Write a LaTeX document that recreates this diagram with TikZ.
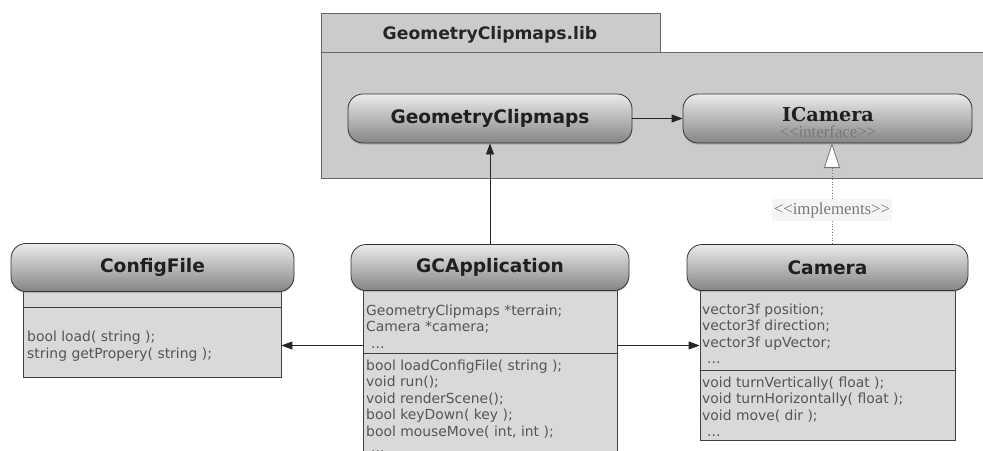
\documentclass[tikz,border=0pt]{standalone}
\usepackage{fontspec}
\setmainfont{DejaVu Sans}
\newfontfamily\hdfont{DejaVu Sans}
\newfontfamily\serfont{DejaVu Serif}
\newfontfamily\tmsfont{Liberation Serif}
\usetikzlibrary{arrows.meta,shadows}
\definecolor{pkgfill}{HTML}{CBCBCB}
\definecolor{bodyfill}{HTML}{D9D9D9}
\definecolor{txtgray}{HTML}{555555}
\definecolor{stereogray}{HTML}{787878}
\begin{document}
\begin{tikzpicture}[x=1pt,y=-1pt,
  pkgbox/.style={draw=black!60, fill=pkgfill, line width=0.7pt},
  headbox/.style={draw=black!80, rounded corners=15pt, top color=black!8, bottom color=black!48,
    line width=0.8pt, text=black!88, font=\hdfont\bfseries\fontsize{18.6}{21}\selectfont,
    drop shadow={shadow xshift=0pt, shadow yshift=-1.5pt, opacity=0.35}},
  bodybox/.style={draw=black!75, fill=bodyfill, line width=0.7pt, anchor=north},
  txt/.style={anchor=base west, inner sep=0pt, text=txtgray, font=\fontsize{13.9}{16}\selectfont},
  conn/.style={draw=black!85, line width=0.8pt, -{Triangle[length=11pt,width=8pt]}},
  impl/.style={draw=black!55, line width=0.8pt, dotted, -{Triangle[open,length=25pt,width=16pt,fill=white]}},
  stereo/.style={inner sep=0pt, text=stereogray, font=\tmsfont\fontsize{16.8}{18}\selectfont}
]
\useasboundingbox (0,0) rectangle (983,450);

% package
\path[pkgbox] (321,13) rectangle (660,52.5);
\path[pkgbox] (321,52.5) rectangle (990,178);
\node[font=\hdfont\bfseries\fontsize{17.2}{19}\selectfont, text=black!85] (pkgname) at (490,35) {GeometryClipmaps.lib};

% library classes
\node[headbox, minimum width=284, minimum height=49] (gcm) at (490,118.5) {GeometryClipmaps};
\node[headbox, minimum width=289, minimum height=49] (icam) at (827.5,118.5) {};
\node[inner sep=0pt, font=\serfont\bfseries\fontsize{19.2}{21}\selectfont, text=black!88] (icamname) at (828,114.5) {ICamera};
\node[stereo] (icamst) at (828,132) {<<interface>>};

% ConfigFile
\node[bodybox, minimum width=258, minimum height=92] (cfbody) at (152,285) {};
\draw[black!75, line width=0.7pt] (cfbody.west |- 0,307) -- (cfbody.east |- 0,307);
\node[headbox, minimum width=283, minimum height=48] (cfhead) at (152.5,267.5) {ConfigFile};
\node[txt] (cf1) at (27,341.5) {bool load( string );};
\node[txt] (cf2) at (27,358) {string getPropery( string );};

% GCApplication
\node[bodybox, minimum width=254, minimum height=200] (gcbody) at (490,285) {};
\draw[black!75, line width=0.7pt] (gcbody.west |- 0,353) -- (gcbody.east |- 0,353);
\node[headbox, minimum width=278, minimum height=46] (gchead) at (490,267.5) {GCApplication};
\foreach \t [count=\i] in {{GeometryClipmaps *terrain;},{Camera *camera;}}
  \node[txt, name=gca\i] at (366,315+16.5*\i-16.5) {\t};
\node[txt] (gca3) at (371,348) {...};
\foreach \t [count=\i] in {{bool loadConfigFile( string );},{void run();},{void renderScene();},{bool keyDown( key );},{bool mouseMove( int, int );}}
  \node[txt, name=gcm\i] at (366,370+16.5*\i-16.5) {\t};
\node[txt] (gcm6) at (371,452.5) {...};

% Camera
\node[bodybox, minimum width=255, minimum height=155] (cambody) at (827.5,285) {};
\draw[black!75, line width=0.7pt] (cambody.west |- 0,370) -- (cambody.east |- 0,370);
\node[headbox, minimum width=281, minimum height=46] (camhead) at (827.5,267.5) {Camera};
\foreach \t [count=\i] in {{vector3f position;},{vector3f direction;},{vector3f upVector;}}
  \node[txt, name=caa\i] at (702,314+16.5*\i-16.5) {\t};
\node[txt] (caa4) at (707,363.5) {...};
\foreach \t [count=\i] in {{void turnVertically( float );},{void turnHorizontally( float );},{void move( dir );}}
  \node[txt, name=cam\i] at (702,387+16.5*\i-16.5) {\t};
\node[txt] (cam4) at (707,436.5) {...};

% connectors
\coordinate (gcL) at (gcbody.west |- 0,345.5);
\coordinate (gcR) at (gcbody.east |- 0,345.5);
\draw[conn] (gcL) -- (cfbody.east |- gcL);
\draw[conn] (gcR) -- (cambody.west |- gcR);
\draw[conn] (gchead.north) -- (gcm.south);
\draw[conn] (gcm.east) -- (icam.west);
\coordinate (implB) at (832,244);
\coordinate (implT) at (832,143);
\draw[impl] (implB) -- (implT);
\node[stereo, fill=black!4, inner xsep=2pt, inner ysep=3pt] (implabel) at (832,210) {<<implements>>};
\end{tikzpicture}
\end{document}
